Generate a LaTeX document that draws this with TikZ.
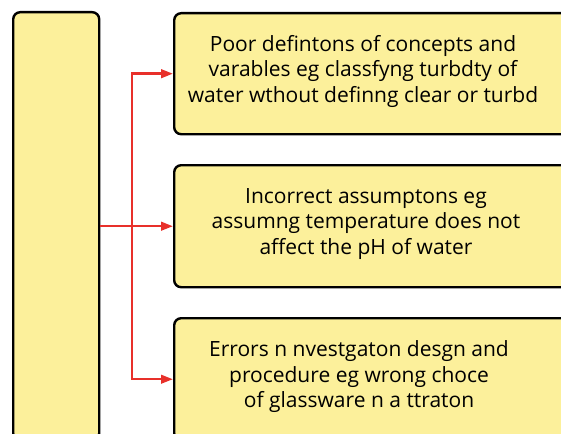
\documentclass[tikz,border=0pt]{standalone}
\usepackage{fontspec}
\setmainfont{Open Sans}
\usetikzlibrary{arrows.meta,positioning}
\definecolor{boxfill}{HTML}{FCF09B}
\definecolor{linkred}{HTML}{E8302A}

\tikzset{
  card/.style={draw=black, line width=2.4pt, rounded corners=7pt, fill=boxfill, inner sep=0pt},
  cardtext/.style={align=center, inner sep=0pt, font=\fontsize{21}{25.5}\selectfont},
  link/.style={draw=linkred, line width=2.5pt, -{Triangle[length=12pt,width=8.5pt]}}
}

\begin{document}
\begin{tikzpicture}[x=1pt,y=-1pt]
\path[use as bounding box, clip] (0,0) rectangle (561,433);

% left column
\node[card, minimum width=86pt, minimum height=428pt, anchor=north west] (cause) at (12,11) {};

% right column
\node[card, minimum width=420pt, minimum height=121pt, anchor=north west] (def) at (173,12) {};
\node[card, minimum width=420pt, minimum height=122pt, anchor=north west] (assume) at (173,164) {};
\node[card, minimum width=420pt, minimum height=122pt, anchor=north west] (design) at (173,317) {};

\node[cardtext] (deftext) at (363,71) {Poor defintons of concepts and\\varables eg classfyng turbdty of\\water wthout definng clear or turbd};
\node[cardtext] (assumetext) at (366,224) {Incorrect assumptons eg\\assumng temperature does not\\affect the pH of water};
\node[cardtext] (designtext) at (359,377) {Errors n nvestgaton desgn and\\procedure eg wrong choce\\of glassware n a ttraton};

% connectors
\coordinate (trunk) at (132,224);
\draw[link] (cause.east) -- (assume.west);
\draw[link] (trunk) |- (def.west);
\draw[link] (trunk) |- (design.west);
\end{tikzpicture}
\end{document}
